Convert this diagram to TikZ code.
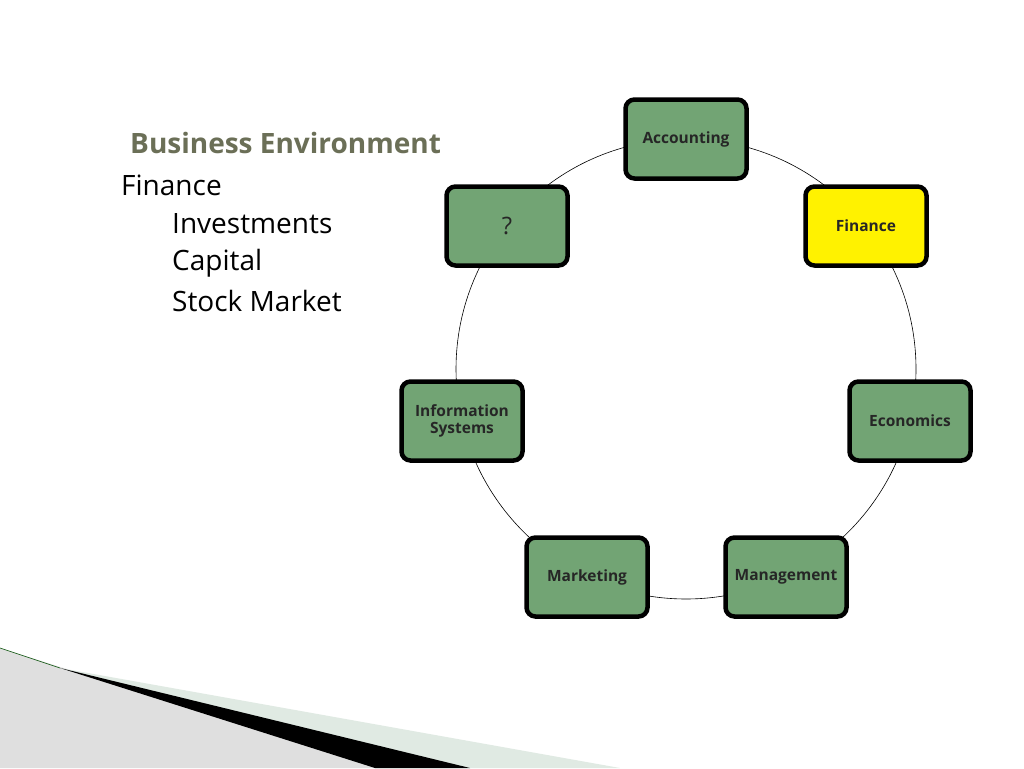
\documentclass[tikz,border=0pt]{standalone}
\usepackage{fontspec}
\setmainfont{Open Sans}
\definecolor{boxg}{HTML}{72A474}
\definecolor{titleg}{HTML}{6B6F57}
\definecolor{lightg}{HTML}{E0EAE3}
\begin{document}
\begin{tikzpicture}[x=1pt,y=-1pt,
 box/.style={draw=black,line width=4.5pt,rounded corners=9pt,fill=boxg,minimum width=121pt,minimum height=79pt,align=center,font=\fontsize{15.5}{17.5}\selectfont\bfseries,text=black!85},
 lt/.style={anchor=west,font=\fontsize{28}{32}\selectfont,inner sep=0pt}]
\useasboundingbox (0,0) rectangle (1024,768);
\fill[white] (0,0) rectangle (1024,768);
% bottom decoration
\fill[gray!25] (0,648) -- (380,768) -- (0,768) -- cycle;
\fill[lightg] (60,668) -- (620,768) -- (380,768) -- cycle;
\fill[black] (60,668) -- (470,768) -- (375,768) -- cycle;
\draw[black!70!green,line width=0.6pt] (0,648) -- (60,668);
% circle
\coordinate (c) at (686,369);
\draw[line width=0.6pt] (c) circle[radius=230];
\node[box] (acc) at (686,139) {Accounting};
\node[box,fill=yellow] (fin) at (866,226) {Finance};
\node[box,font=\fontsize{24}{26}\selectfont] (q) at (507,226) {?};
\node[box] (info) at (462,421) {Information\\Systems};
\node[box] (eco) at (910,421) {Economics};
\node[box] (mkt) at (587,577) {Marketing};
\node[box] (mgt) at (786,577) {Management};
% text
\node[lt,font=\fontsize{28}{32}\selectfont\bfseries,text=titleg] (t) at (130,143) {Business Environment};
\node[lt] (f) at (121,185) {Finance};
\node[lt] (i1) at (172,224) {Investments};
\node[lt] (i2) at (172,263) {Capital};
\node[lt] (i3) at (172,301) {Stock Market};
\end{tikzpicture}
\end{document}
